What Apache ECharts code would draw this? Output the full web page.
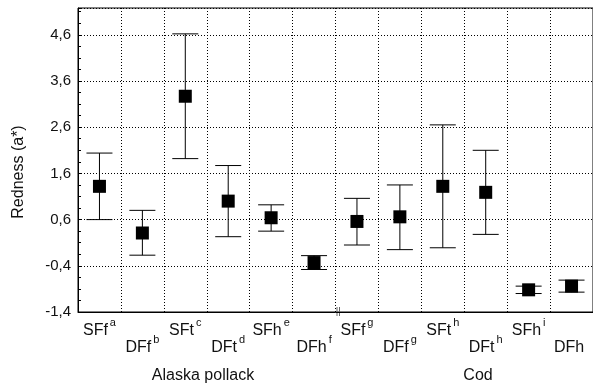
<!DOCTYPE html>
<html><head><meta charset="utf-8">
<script src="https://cdn.jsdelivr.net/npm/echarts@6/dist/echarts.min.js"></script>
<style>html,body{margin:0;padding:0;background:#fff;}#c{width:593px;height:385px;}</style>
</head><body><div id="c"></div>
<script>
var categories = ['SFf','DFf','SFt','DFt','SFh','DFh','SFf','DFf','SFt','DFt','SFh','DFh'];
var superscripts = ['a','b','c','d','e','f','g','g','h','h','i',''];
var means = [1.32, 0.31, 3.27, 1.00, 0.64, -0.33, 0.56, 0.66, 1.32, 1.19, -0.92, -0.84];
var upper = [2.04, 0.80, 4.62, 1.77, 0.92, -0.18, 1.06, 1.35, 2.65, 2.10, -0.84, -0.71];
var lower = [0.60, -0.17, 1.92, 0.23, 0.35, -0.48, 0.05, -0.05, -0.01, 0.28, -1.00, -0.97];
var groups = ['Alaska pollack', 'Cod'];
var yTicks = [-1.4, -0.4, 0.6, 1.6, 2.6, 3.6, 4.6];

var chart = echarts.init(document.getElementById('c'));
var font = 'Liberation Sans, Arial, sans-serif';
var errData = categories.map(function(c, i){ return [i, lower[i], upper[i]]; });
var ptData = categories.map(function(c, i){ return [i, means[i]]; });

chart.setOption({
  animation: false,
  backgroundColor: '#fff',
  grid: {left: 78, right: -6, top: 8, bottom: 73, show: true, borderColor: '#000', borderWidth: 1},
  xAxis: {
    type: 'category', data: categories, boundaryGap: true,
    axisLine: {onZero: false, lineStyle: {color: '#000', width: 1}},
    axisTick: {show: false},
    splitLine: {show: true, lineStyle: {color: '#000', type: [1, 2], width: 1}},
    axisLabel: {
      interval: 0, margin: 10, color: '#111', fontFamily: font, fontSize: 16, lineHeight: 17,
      formatter: function(v, i){
        var s = '{m|' + v + '}{s|' + (superscripts[i] || ' ') + '}';
        return (i % 2 === 1 ? '{e| }\n' : '') + s;
      },
      rich: {
        m: {fontFamily: font, fontSize: 16, lineHeight: 17, color: '#111'},
        s: {fontFamily: font, fontSize: 11, lineHeight: 11, color: '#111', padding: [0, 0, 16, 2]},
        e: {fontFamily: font, fontSize: 16, lineHeight: 17}
      }
    }
  },
  yAxis: {
    type: 'value', min: yTicks[0], max: 5.18, interval: 1,
    axisLine: {show: true, lineStyle: {color: '#000', width: 1}},
    axisTick: {show: true, inside: true, length: 4, lineStyle: {color: '#000'}},
    minorTick: {show: true, splitNumber: 4, length: 3, lineStyle: {color: '#000'}},
    splitLine: {show: true, lineStyle: {color: '#000', type: [1, 2], width: 1}},
    axisLabel: {
      showMaxLabel: false, margin: 7, color: '#111', fontFamily: font, fontSize: 15,
      formatter: function(v){ return yTicks.some(function(t){return Math.abs(t-v)<1e-6;}) ? v.toFixed(1).replace('.', ',') : ''; }
    }
  },
  graphic: [
    {type: 'text', x: 19, y: 172, rotation: Math.PI/2, style: {text: 'Redness (a*)', fontFamily: font, fontSize: 16, fill: '#111', align: 'center', verticalAlign: 'middle'}},
    {type: 'text', x: 203, y: 376, style: {text: groups[0], fontFamily: font, fontSize: 16, fill: '#111', align: 'center', verticalAlign: 'middle'}},
    {type: 'text', x: 478, y: 376, style: {text: groups[1], fontFamily: font, fontSize: 16, fill: '#111', align: 'center', verticalAlign: 'middle'}},
    {type: 'line', shape: {x1: 337, y1: 307, x2: 337, y2: 316}, style: {stroke: '#666', lineWidth: 1}},
    {type: 'line', shape: {x1: 339.5, y1: 307, x2: 339.5, y2: 316}, style: {stroke: '#666', lineWidth: 1}}
  ],
  series: [
    {
      type: 'custom', data: errData, z: 3,
      renderItem: function(params, api){
        var lo = api.coord([api.value(0), api.value(1)]);
        var hi = api.coord([api.value(0), api.value(2)]);
        var hw = 13;
        var st = {stroke: '#000', lineWidth: 1};
        return {type: 'group', children: [
          {type: 'line', shape: {x1: lo[0], y1: lo[1], x2: hi[0], y2: hi[1]}, style: st},
          {type: 'line', shape: {x1: lo[0]-hw, y1: lo[1], x2: lo[0]+hw, y2: lo[1]}, style: st},
          {type: 'line', shape: {x1: hi[0]-hw, y1: hi[1], x2: hi[0]+hw, y2: hi[1]}, style: st}
        ]};
      }
    },
    {
      type: 'scatter', data: ptData, symbol: 'rect', symbolSize: 13, z: 4,
      itemStyle: {color: '#000', opacity: 1}
    }
  ]
});
</script></body></html>
